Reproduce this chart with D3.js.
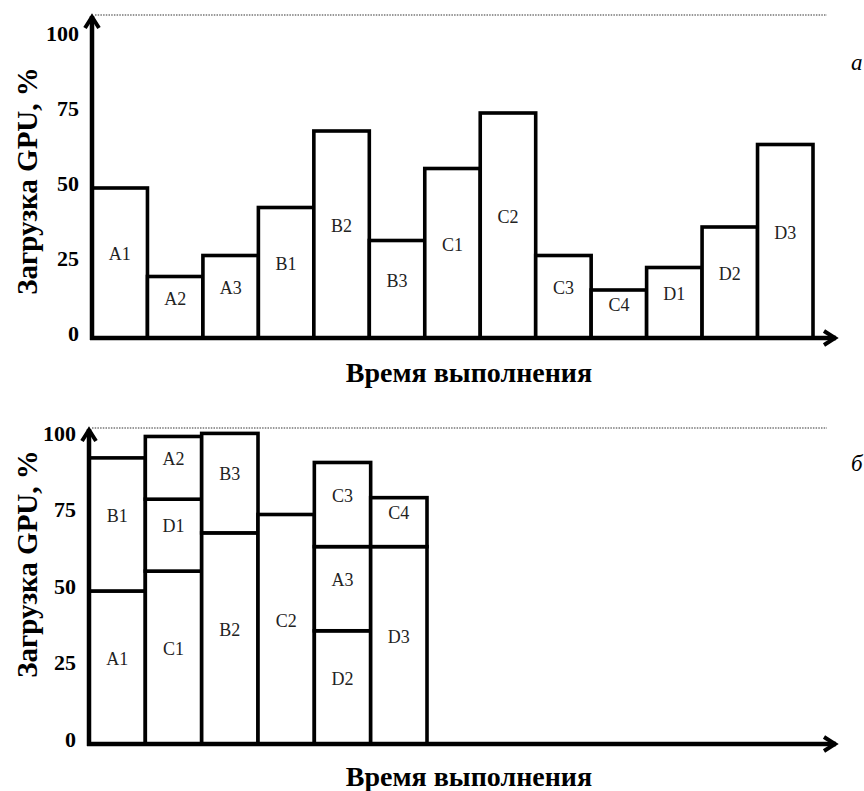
<!DOCTYPE html>
<html>
<head>
<meta charset="utf-8">
<script src="https://cdn.jsdelivr.net/npm/d3@7"></script>
<style>
  body { margin: 0; background: #fff; }
</style>
</head>
<body>
<div id="chart"></div>
<script>
/* Task loads, %. */
const tasks = ['A1', 'A2', 'A3', 'B1', 'B2', 'B3', 'C1', 'C2', 'C3', 'C4', 'D1', 'D2', 'D3'];
const loads = [50, 20.5, 27.5, 43.5, 69, 32.5, 56.5, 75, 27.5, 16, 23.5, 37, 64.5];

// Tasks packed into columns for the second chart (bottom to top).
const columns = [
    ['A1', 'B1'],
    ['C1', 'D1', 'A2'],
    ['B2', 'B3'],
    ['C2'],
    ['D2', 'A3', 'C3'],
    ['D3', 'C4']
];

const yTicks = [0, 25, 50, 75, 100];
const yTitle = 'Загрузка GPU, %';
const xTitle = 'Время выполнения';
const panelLetters = ['а', 'б'];

const width = 864;
const height = 791;
const serif = 'Liberation Serif';

const loadOf = new Map(tasks.map((t, i) => [t, loads[i]]));

const svg = d3.select('#chart').append('svg')
    .attr('width', width)
    .attr('height', height);

// Draws axes, ticks and titles for one panel.
function axes(p, y) {
    const g = svg.append('g');

    // Dotted line at the top.
    g.append('line')
        .attr('x1', p.axisX + 3).attr('x2', 827)
        .attr('y1', p.topY).attr('y2', p.topY)
        .attr('stroke', '#777')
        .attr('stroke-width', 1.5)
        .attr('stroke-dasharray', '1.5,1.2');

    // Y axis with arrow.
    g.append('line')
        .attr('x1', p.axisX).attr('x2', p.axisX)
        .attr('y1', p.base + 2).attr('y2', p.topY + 1)
        .attr('stroke', '#000').attr('stroke-width', 4.5);
    g.append('path')
        .attr('d', 'M' + (p.axisX - 7) + ',' + (p.topY + 13) + 'L' + p.axisX + ',' + (p.topY + 2) + 'L' + (p.axisX + 7) + ',' + (p.topY + 13))
        .attr('fill', 'none').attr('stroke', '#000').attr('stroke-width', 4);

    // X axis with arrow.
    g.append('line')
        .attr('x1', p.axisX - 2).attr('x2', 836)
        .attr('y1', p.base).attr('y2', p.base)
        .attr('stroke', '#000').attr('stroke-width', 4.5);
    g.append('path')
        .attr('d', 'M824,' + (p.base - 7) + 'L835,' + p.base + 'L824,' + (p.base + 7))
        .attr('fill', 'none').attr('stroke', '#000').attr('stroke-width', 4);

    // Tick labels.
    g.selectAll('text.tick')
        .data(yTicks)
        .enter()
        .append('text')
        .attr('class', 'tick')
        .attr('x', p.axisX - 13)
        .attr('y', d => y(d) - 5)
        .attr('dy', '0.35em')
        .attr('text-anchor', 'end')
        .attr('font-family', serif)
        .attr('font-size', 22)
        .attr('font-weight', 'bold')
        .text(d => d);

    // Axis titles.
    g.append('text')
        .attr('transform', 'translate(37,' + p.yTitleY + ') rotate(-90)')
        .attr('text-anchor', 'middle')
        .attr('font-family', serif)
        .attr('font-size', 29)
        .attr('font-weight', 'bold')
        .text(yTitle);
    g.append('text')
        .attr('x', 469)
        .attr('y', p.xTitleY)
        .attr('text-anchor', 'middle')
        .attr('font-family', serif)
        .attr('font-size', 28)
        .attr('font-weight', 'bold')
        .text(xTitle);

    // Panel letter.
    g.append('text')
        .attr('x', 851)
        .attr('y', p.letterY)
        .attr('font-family', serif)
        .attr('font-size', 23)
        .attr('font-style', 'italic')
        .text(p.letter);
}

function drawSegments(segs) {
    const g = svg.append('g');
    g.selectAll('rect')
        .data(segs)
        .enter()
        .append('rect')
        .attr('x', d => d.x)
        .attr('y', d => d.y1)
        .attr('width', d => d.w)
        .attr('height', d => d.y0 - d.y1)
        .attr('fill', '#fff')
        .attr('stroke', '#000')
        .attr('stroke-width', 3.6);
    g.selectAll('text')
        .data(segs)
        .enter()
        .append('text')
        .attr('x', d => d.x + d.w / 2)
        .attr('y', d => (d.y0 + d.y1) / 2 - 9)
        .attr('dy', '0.35em')
        .attr('text-anchor', 'middle')
        .attr('font-family', serif)
        .attr('font-size', 18)
        .attr('fill', '#222')
        .text(d => d.name);
}

/* Panel a: tasks one after another. */
const pa = {axisX: 92, base: 338, topY: 15, yTitleY: 181, xTitleY: 382, letterY: 70, letter: panelLetters[0]};
const ya = d3.scaleLinear().domain([0, 100]).range([pa.base, pa.base - 300]);
const xa = d3.scaleBand().domain(tasks).range([pa.axisX, 813]);

drawSegments(tasks.map(t => ({
    name: t,
    x: xa(t),
    w: xa.bandwidth(),
    y0: ya(0),
    y1: ya(loadOf.get(t))
})));
axes(pa, ya);

/* Panel b: tasks stacked in columns. */
const pb = {axisX: 89, base: 744, topY: 428, yTitleY: 564, xTitleY: 786, letterY: 471, letter: panelLetters[1]};
const yb = d3.scaleLinear().domain([0, 100]).range([pb.base, pb.base - 306]);
const xb = d3.scaleBand().domain(d3.range(columns.length)).range([pb.axisX, 427]);

const stacked = [];
columns.forEach((col, i) => {
    let acc = 0;
    for (const t of col) {
        const v = loadOf.get(t);
        stacked.push({name: t, x: xb(i), w: xb.bandwidth(), y0: yb(acc), y1: yb(acc + v)});
        acc += v;
    }
});
drawSegments(stacked);
axes(pb, yb);
</script>
</body>
</html>
